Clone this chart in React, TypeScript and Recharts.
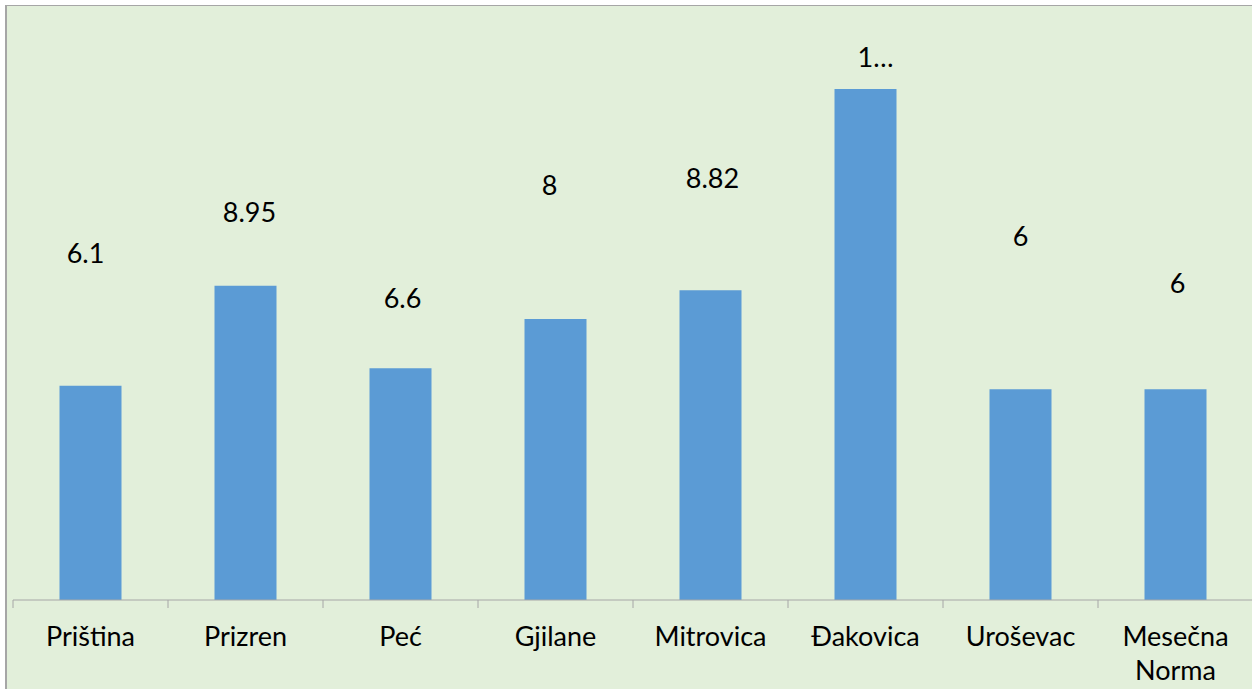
// Bar chart of monthly values per city, Excel-style with dragged data labels

import { BarChart, Bar, XAxis, YAxis, LabelList } from "recharts";

const categories = [
  "Priština",
  "Prizren",
  "Peć",
  "Gjilane",
  "Mitrovica",
  "Đakovica",
  "Uroševac",
  "Mesečna Norma",
];
const values = [6.1, 8.95, 6.6, 8, 8.82, 14.55, 6, 6];
const labelTexts = ["6.1", "8.95", "6.6", "8", "8.82", "1…", "6", "6"];

// labels were dragged by hand in the original, so each one has its own offset from the bar top
const labelLift = [132, 73, 70, 134, 112, 31, 153, 106];
const labelShift = [-5, 4, 2, -6, 2, 10, 0, 2];

const chartData = categories.map((name, i) => ({
  name,
  value: values[i],
  label: labelTexts[i],
}));

const FONT = "Lato, 'Open Sans', sans-serif";
const AXIS_GRAY = "#A6A6A6";

function CategoryTick(props: any) {
  const { x, y, payload, index, visibleTicksCount } = props;
  const half = payload && payload.offset ? payload.offset : 77.5;
  const lines = String(payload.value).split(" ");
  const isLast = index === (visibleTicksCount ?? categories.length) - 1;
  return (
    <g>
      <line x1={x - half} x2={x - half} y1={y} y2={y + 8} stroke={AXIS_GRAY} strokeWidth={1} />
      {isLast && (
        <line x1={x + half} x2={x + half} y1={y} y2={y + 8} stroke={AXIS_GRAY} strokeWidth={1} />
      )}
      <text x={x} y={y + 46} textAnchor="middle" fontFamily={FONT} fontSize={27} fill="#000">
        {lines.map((line, i) => (
          <tspan key={i} x={x} dy={i === 0 ? 0 : 34}>
            {line}
          </tspan>
        ))}
      </text>
    </g>
  );
}

function DraggedLabel(props: any) {
  const { x, y, width, index, value } = props;
  const lift = labelLift[index] ?? 20;
  const shift = labelShift[index] ?? 0;
  return (
    <text
      x={x + width / 2 + shift}
      y={y - lift + 9.5}
      textAnchor="middle"
      fontFamily={FONT}
      fontSize={27}
      fill="#000"
    >
      {value}
    </text>
  );
}

export default function App() {
  return (
    <div
      style={{
        position: "absolute",
        left: 0,
        top: 0,
        width: 1252,
        height: 689,
        overflow: "hidden",
        background: "#fff",
      }}
    >
      <div
        style={{
          position: "absolute",
          left: 5,
          top: 5,
          right: 0,
          bottom: 0,
          background: "#E2EFDA",
          borderLeft: `2px solid ${AXIS_GRAY}`,
          borderTop: `1px solid ${AXIS_GRAY}`,
        }}
      />
      <div style={{ position: "absolute", left: 0, top: 0 }}>
        <BarChart
          width={1260}
          height={689}
          data={chartData}
          margin={{ top: 38, right: 7, bottom: 0, left: 13 }}
          barCategoryGap="30%"
        >
          <YAxis hide domain={[0, 16]} />
          <XAxis
            dataKey="name"
            height={89}
            interval={0}
            tickLine={false}
            tickSize={0}
            tickMargin={0}
            axisLine={{ stroke: AXIS_GRAY, strokeWidth: 1 }}
            tick={<CategoryTick />}
          />
          <Bar dataKey="value" fill="#5B9BD5" isAnimationActive={false}>
            <LabelList dataKey="label" content={<DraggedLabel />} />
          </Bar>
        </BarChart>
      </div>
    </div>
  );
}
